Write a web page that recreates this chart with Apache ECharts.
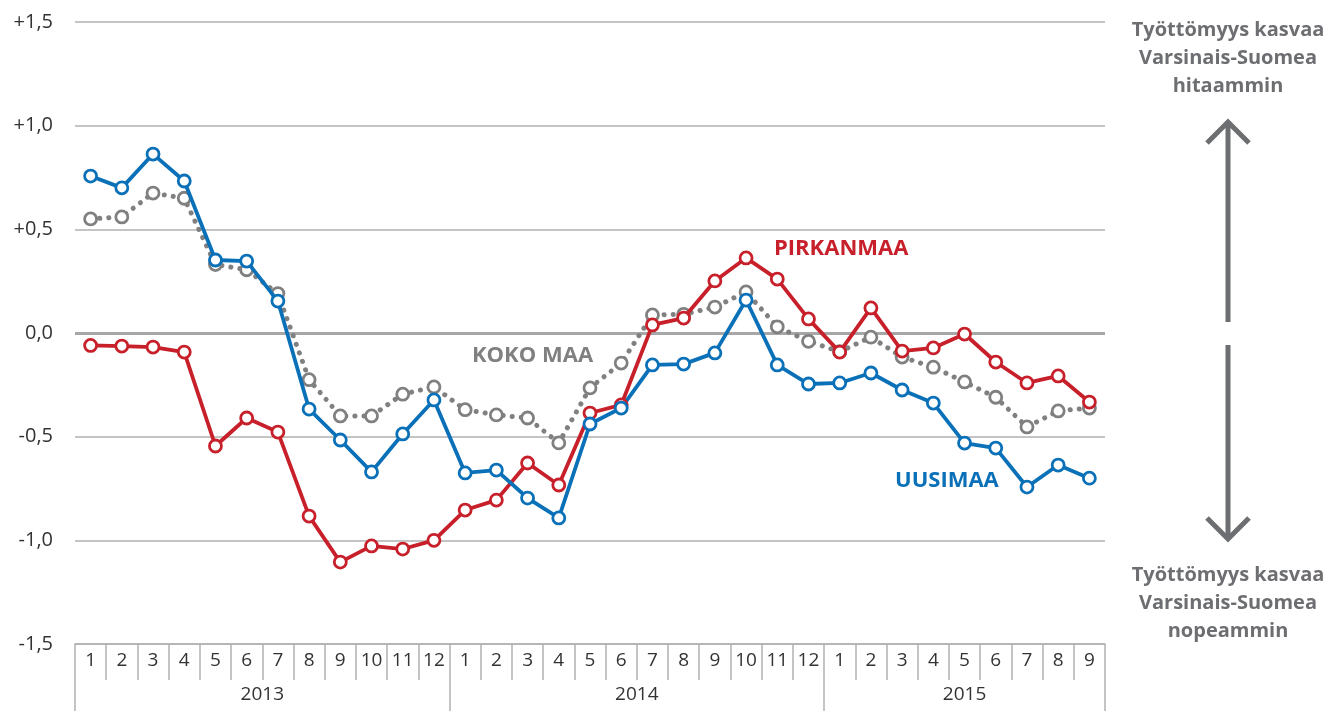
<!DOCTYPE html>
<html>
<head>
<meta charset="utf-8">
<script src="https://cdn.jsdelivr.net/npm/echarts@6/dist/echarts.min.js"></script>
<style>
	html, body { margin: 0; padding: 0; background: #fff; }
	#chart { width: 1329px; height: 711px; }
</style>
</head>
<body>
<div id="chart"></div>
<script>
var months = [
	'1', '2', '3', '4', '5', '6', '7', '8', '9', '10', '11', '12',
	'1', '2', '3', '4', '5', '6', '7', '8', '9', '10', '11', '12',
	'1', '2', '3', '4', '5', '6', '7', '8', '9'
];
var years = [ '2013', '2014', '2015' ];
var yearCenters = [ 6, 18, 28.5 ];
var yearBounds = [ 0, 12, 24, 33 ];
var yTicks = [ -1.5, -1, -0.5, 0, 0.5, 1, 1.5 ];

var kokoMaa = [
	0.55, 0.56, 0.675, 0.65, 0.33, 0.305, 0.19, -0.225, -0.40, -0.40, -0.295, -0.26,
	-0.37, -0.395, -0.41, -0.53, -0.265, -0.145, 0.087, 0.09, 0.125, 0.198, 0.03, -0.04,
	-0.09, -0.02, -0.116, -0.165, -0.236, -0.31, -0.453, -0.376, -0.362
];
var pirkanmaa = [
	-0.06, -0.063, -0.068, -0.092, -0.545, -0.41, -0.478, -0.883, -1.105, -1.027, -1.042, -1.0,
	-0.854, -0.806, -0.627, -0.733, -0.386, -0.347, 0.039, 0.072, 0.251, 0.362, 0.26, 0.068,
	-0.092, 0.121, -0.087, -0.072, -0.005, -0.14, -0.241, -0.207, -0.333
];
var uusimaa = [
	0.757, 0.70, 0.863, 0.733, 0.352, 0.347, 0.154, -0.367, -0.516, -0.67, -0.487, -0.323,
	-0.675, -0.661, -0.796, -0.892, -0.439, -0.362, -0.154, -0.15, -0.096, 0.159, -0.154, -0.246,
	-0.241, -0.193, -0.275, -0.338, -0.531, -0.555, -0.743, -0.637, -0.70
];

var chartDom = document.getElementById('chart');
var myChart = echarts.init(chartDom);
var option;

var font = '"Open Sans", "Noto Sans", sans-serif';
var gridColor = '#b1b1b1';
var arrowColor = '#6d6e71';
var labelColor = '#333';

function lineSeries(name, data, color, dotted) {
	return {
		name: name,
		type: 'line',
		data: data,
		symbol: 'circle',
		symbolSize: 12,
		showSymbol: true,
		itemStyle: {
			color: '#fff',
			borderColor: color,
			borderWidth: 2.8
		},
		lineStyle: {
			color: color,
			width: dotted ? 5 : 3.8,
			type: dotted ? [ 0.1, 9 ] : 'solid',
			cap: 'round'
		},
		emphasis: { disabled: true },
		z: dotted ? 2 : 3
	};
}

option = {
	animation: false,
	textStyle: { fontFamily: font },
	grid: {
		left: 75,
		right: 224,
		top: 22,
		bottom: 67,
		containLabel: false
	},
	xAxis: [
		{
			type: 'category',
			data: months,
			boundaryGap: true,
			axisLine: { show: true, onZero: false, lineStyle: { color: gridColor, width: 1.5 } },
			axisTick: {
				show: true,
				interval: 0,
				length: 36,
				lineStyle: { color: gridColor, width: 1.5 }
			},
			axisLabel: {
				interval: 0,
				margin: 7,
				color: labelColor,
				fontSize: 19,
				fontFamily: font
			}
		},
		{
			type: 'value',
			position: 'bottom',
			min: 0,
			max: 33,
			axisLine: { show: false, onZero: false },
			splitLine: { show: false },
			axisTick: {
				show: true,
				customValues: yearBounds,
				length: 67,
				lineStyle: { color: gridColor, width: 1.5 }
			},
			axisLabel: {
				customValues: yearCenters,
				margin: 41,
				color: labelColor,
				fontSize: 19,
				fontFamily: font,
				formatter: function (v) {
					return years[yearCenters.indexOf(v)];
				}
			}
		}
	],
	yAxis: {
		type: 'value',
		min: -1.5,
		max: 1.5,
		interval: 0.5,
		axisLine: { show: false },
		axisTick: { show: false },
		splitLine: { lineStyle: { color: gridColor, width: 1.5 } },
		axisLabel: {
			margin: 22,
			color: labelColor,
			fontSize: 20,
			fontFamily: font,
			formatter: function (v) {
				var s = Math.abs(v).toFixed(1).replace('.', ',');
				if (v > 0) return '+' + s;
				if (v < 0) return '-' + s;
				return s;
			}
		}
	},
	series: [
		Object.assign(lineSeries('KOKO MAA', kokoMaa, '#808080', true), {
			markLine: {
				silent: true,
				symbol: 'none',
				label: { show: false },
				lineStyle: { color: '#a7a7a7', width: 3, type: 'solid' },
				data: [ { yAxis: yTicks[3] } ],
				z: 1
			}
		}),
		lineSeries('PIRKANMAA', pirkanmaa, '#c8202b', false),
		lineSeries('UUSIMAA', uusimaa, '#0a70b8', false)
	],
	graphic: [
		{ type: 'text', left: 774, top: 238, style: { text: 'PIRKANMAA', fill: '#c8202b', font: 'bold 22px ' + font } },
		{ type: 'text', left: 472, top: 345, style: { text: 'KOKO MAA', fill: '#808080', font: 'bold 22px ' + font } },
		{ type: 'text', left: 895, top: 470, style: { text: 'UUSIMAA', fill: '#0a70b8', font: 'bold 22px ' + font } },
		{
			type: 'text', x: 1228, y: 16,
			style: {
				text: 'Työttömyys kasvaa\nVarsinais-Suomea\nhitaammin',
				fill: arrowColor, font: 'bold 20px ' + font, align: 'center', lineHeight: 28
			}
		},
		{
			type: 'text', x: 1228, y: 561,
			style: {
				text: 'Työttömyys kasvaa\nVarsinais-Suomea\nnopeammin',
				fill: arrowColor, font: 'bold 20px ' + font, align: 'center', lineHeight: 28
			}
		},
		{ type: 'line', shape: { x1: 1228, y1: 123, x2: 1228, y2: 322 }, style: { stroke: arrowColor, lineWidth: 5 } },
		{ type: 'polyline', shape: { points: [ [ 1207, 143 ], [ 1228, 122 ], [ 1249, 143 ] ] }, style: { stroke: arrowColor, lineWidth: 5, fill: null } },
		{ type: 'line', shape: { x1: 1228, y1: 345, x2: 1228, y2: 538 }, style: { stroke: arrowColor, lineWidth: 5 } },
		{ type: 'polyline', shape: { points: [ [ 1207, 518 ], [ 1228, 539 ], [ 1249, 518 ] ] }, style: { stroke: arrowColor, lineWidth: 5, fill: null } }
	]
};

option && myChart.setOption(option);
</script>
</body>
</html>
